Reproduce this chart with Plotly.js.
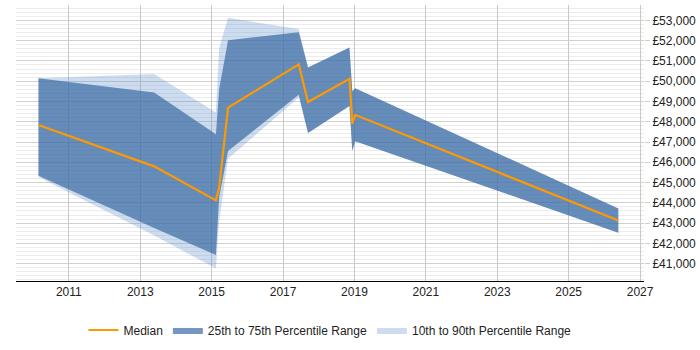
<!DOCTYPE html>
<html>
<head>
<meta charset="utf-8">
<script src="https://cdn.plot.ly/plotly-3.0.1.min.js"></script>
<style>
  html, body { margin: 0; padding: 0; background: #ffffff; }
  #chart { width: 700px; height: 350px; }
</style>
</head>
<body>
<div id="chart"></div>
<script>
// Salary percentiles over time (GBP)
const years = [2010.15, 2013.39, 2015.12, 2015.21, 2015.46, 2017.44, 2017.70, 2018.86, 2018.94, 2019.02, 2026.39];
const p10    = [45270, 42390, 40760, 43100, 46170, 49200, 47440, 48780, 46560, 47040, 42530];
const p25    = [45330, 42760, 41430, 44270, 46560, 49330, 47440, 48780, 46560, 47040, 42530];
const median = [47840, 45800, 44120, 44750, 48700, 50830, 48970, 50120, 47910, 48340, 43130];
const p75    = [50140, 49440, 47380, 49600, 52020, 52420, 50680, 51660, 49500, 49650, 43720];
const p90    = [50150, 50360, 48450, 51620, 53130, 52570, 50680, 51660, 49500, 49650, 43720];

const lightFill = 'rgba(100,150,205,0.32)';
const darkFill = 'rgba(58,106,164,0.70)';

const traces = [
  { x: years, y: p10, type: 'scatter', mode: 'lines', line: { width: 0 },
    showlegend: false, hoverinfo: 'skip' },
  { x: years, y: p90, type: 'scatter', mode: 'lines', line: { width: 0 },
    fill: 'tonexty', fillcolor: lightFill, name: '10th to 90th Percentile Range' },
  { x: years, y: p25, type: 'scatter', mode: 'lines', line: { width: 0 },
    showlegend: false, hoverinfo: 'skip' },
  { x: years, y: p75, type: 'scatter', mode: 'lines', line: { width: 0 },
    fill: 'tonexty', fillcolor: darkFill, name: '25th to 75th Percentile Range' },
  { x: years, y: median, type: 'scatter', mode: 'lines',
    line: { color: '#ff9900', width: 2.2 }, name: 'Median' }
];

const layout = {
  width: 700, height: 350,
  margin: { l: 16, r: 56, t: 5, b: 58 },
  paper_bgcolor: '#ffffff', plot_bgcolor: '#ffffff',
  font: { family: 'Liberation Sans, Arial, sans-serif', size: 12, color: '#222' },
  showlegend: true,
  legend: {
    orientation: 'h', x: 0.5, xanchor: 'center', y: -0.125, yanchor: 'top',
    traceorder: 'reversed', itemwidth: 30, font: { size: 12, color: '#222' }
  },
  xaxis: {
    range: [2009.52, 2027.11],
    tick0: 2011, dtick: 2, tickformat: 'd',
    showgrid: true, gridcolor: '#c8c8c8', gridwidth: 1,
    showline: true, linecolor: '#000', linewidth: 1,
    ticks: '', zeroline: false, fixedrange: true
  },
  yaxis: {
    side: 'right',
    range: [40144, 53759],
    tick0: 41000, dtick: 1000,
    tickprefix: '£', tickformat: ',d',
    showgrid: true, gridcolor: '#d0d0d0', gridwidth: 1,
    minor: { dtick: 200, showgrid: true, gridcolor: '#ececec', gridwidth: 1 },
    ticks: 'outside', ticklen: 5, tickcolor: '#d0d0d0',
    showline: false, zeroline: false, fixedrange: true
  }
};

Plotly.newPlot('chart', traces, layout, { displayModeBar: false, staticPlot: true });
</script>
</body>
</html>
